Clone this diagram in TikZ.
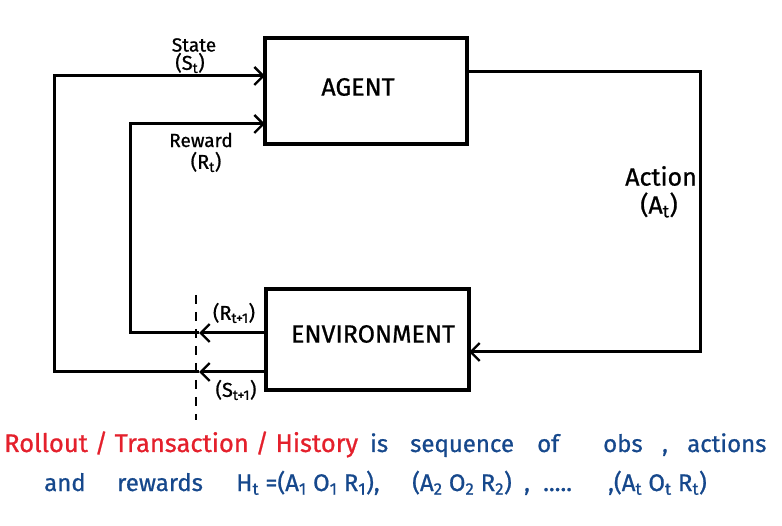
\documentclass[tikz,border=0pt]{standalone}
\usepackage{fontspec}
\setmainfont{Fira Sans}[FakeBold=0.8]
\usetikzlibrary{arrows.meta}
\definecolor{redtxt}{RGB}{228,32,44}
\definecolor{bluetxt}{RGB}{22,72,140}
\begin{document}
\begin{tikzpicture}[x=1pt,y=-1pt,
  conn/.style={line width=3pt, line join=miter},
  arr/.style={conn, -{Straight Barb[length=9pt,width=18pt,line width=2.4pt]}},
  box/.style={draw, line width=3.2pt, inner sep=0pt, outer sep=0pt},
  lbl/.style={inner sep=0pt, font=\fontsize{19}{21}\selectfont},
  sym/.style={inner sep=0pt, font=\fontsize{20}{22}\selectfont},
  big/.style={inner sep=0pt, font=\fontsize{25}{28}\selectfont},
  btm/.style={inner sep=0pt, anchor=base west, font=\fontsize{24}{28}\selectfont},
]
\useasboundingbox (0,0) rectangle (782,526);
% boxes
\node[box, anchor=north west, minimum width=202pt, minimum height=106pt] (agent) at (265,38) {};
\node[box, anchor=north west, minimum width=203pt, minimum height=101pt] (env) at (266,289) {};
\node[big] (agentlbl) at (358,87) {AGENT};
\node[big] (envlbl) at (373,334) {ENVIRONMENT};
% coordinates
\coordinate (sOut) at (266,372);
\coordinate (sMid) at (199,372);
\coordinate (sL) at (54,372);
\coordinate (sT) at (54,76);
\coordinate (sIn) at (265,76);
\coordinate (rOut) at (266,333);
\coordinate (rMid) at (199,333);
\coordinate (rL) at (130,333);
\coordinate (rT) at (130,124);
\coordinate (rIn) at (265,124);
\coordinate (aOut) at (467,72);
\coordinate (aR) at (700,72);
\coordinate (aB) at (700,352);
\coordinate (aIn) at (469,352);
\coordinate (dTop) at (196,295);
\coordinate (dBot) at (196,420);
% connectors
\draw[arr] (sOut) -- (sMid);
\draw[arr] (sMid) -- (sL) -- (sT) -- (sIn);
\draw[arr] (rOut) -- (rMid);
\draw[arr] (rMid) -- (rL) -- (rT) -- (rIn);
\draw[arr] (aOut) -- (aR) -- (aB) -- (aIn);
\draw[line width=1.8pt, dash pattern=on 9pt off 8pt] (dTop) -- (dBot);
% labels
\node[lbl] (stlbl) at (194,45) {State};
\node[sym] (stsym) at (190,63) {(S\textsubscript{t})};
\node[lbl] (rwlbl) at (201,140) {Reward};
\node[sym] (rwsym) at (206,162) {(R\textsubscript{t})};
\node[big] (aclbl) at (661,176) {Action};
\node[big] (acsym) at (659,205) {(A\textsubscript{t})};
\node[sym] (r1lbl) at (234,313) {(R\textsubscript{t+1})};
\node[sym] (s1lbl) at (236,390) {(S\textsubscript{t+1})};
% bottom text, line 1
\node[btm, text=redtxt, font=\fontsize{25.5}{28}\selectfont] (t1) at (4,452) {Rollout / Transaction / History};
\node[btm, text=bluetxt] (w1) at (370,452) {is};
\node[btm, text=bluetxt] (w2) at (410,452) {sequence};
\node[btm, text=bluetxt] (w3) at (537,452) {of};
\node[btm, text=bluetxt] (w4) at (603,452) {obs};
\node[btm, text=bluetxt] (w5) at (662,452) {,};
\node[btm, text=bluetxt] (w6) at (687,452) {actions};
% bottom text, line 2
\node[btm, text=bluetxt] (v1) at (44,491) {and};
\node[btm, text=bluetxt] (v2) at (117,491) {rewards};
\node[btm, text=bluetxt] (v3) at (236,491) {H\textsubscript{t} =(A\textsubscript{1} O\textsubscript{1} R\textsubscript{1}),};
\node[btm, text=bluetxt] (v4) at (412,491) {(A\textsubscript{2} O\textsubscript{2} R\textsubscript{2})};
\node[btm, text=bluetxt] (v5) at (524,491) {,};
\node[btm, text=bluetxt] (v6) at (543,491) {.....};
\node[btm, text=bluetxt] (v7) at (608,491) {,(A\textsubscript{t} O\textsubscript{t} R\textsubscript{t})};
\end{tikzpicture}
\end{document}
